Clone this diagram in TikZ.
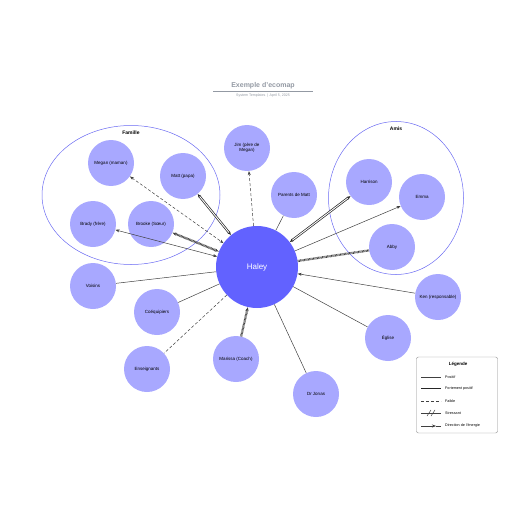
\documentclass[tikz,border=0pt]{standalone}
\usepackage{fontspec}
\setmainfont{Liberation Sans}
\usetikzlibrary{arrows.meta, shapes.geometric, positioning, calc}
\definecolor{pale}{HTML}{A8A8FF}
\definecolor{focus}{HTML}{6262FF}
\definecolor{groupline}{HTML}{6A6AF2}
\definecolor{titlegrey}{HTML}{9399A3}

\begin{document}
\begin{tikzpicture}[x=1pt, y=-1pt,
                >={Stealth[length=4pt, width=3pt]},
                person/.style={circle, fill=pale, minimum size=46pt, inner sep=1pt, align=center, font=\fontsize{4.5}{5.4}\selectfont},
                ego/.style={circle, fill=focus, minimum size=82pt, text=white, font=\fontsize{8}{9}\selectfont},
                group/.style={ellipse, draw=groupline, line width=0.5pt, inner sep=0pt},
                grouplabel/.style={font=\bfseries\fontsize{5}{6}\selectfont},
                positive/.style={draw=black!75, line width=0.5pt},
                strong/.style={draw=black!85, line width=0.7pt, double, double distance=0.9pt},
                weak/.style={positive, dash pattern=on 3pt off 2pt},
                stress/.style={draw=black!75, line width=2.2pt, dash pattern=on 0.7pt off 0.6pt},
                legendtext/.style={anchor=west, font=\fontsize{3.7}{4.5}\selectfont, inner sep=0pt}
            ]
            \useasboundingbox (0,0) rectangle (516,516);

            % Titre
            \node[font=\bfseries\fontsize{7}{8}\selectfont, text=titlegrey] (title) at (263,86) {Exemple d'ecomap};
            \coordinate (ruleL) at (213,91);
            \coordinate (ruleR) at (313,91);
            \draw[titlegrey, line width=0.5pt] (ruleL) -- (ruleR);
            \node[font=\fontsize{3.6}{4}\selectfont, text=titlegrey] (subtitle) at (263,95.5) {System Templates \,|\, April 5, 2025};

            % Groupes
            \node[group, minimum width=178pt, minimum height=139pt] (famille) at (131,195) {};
            \node[grouplabel, below=2pt of famille.north] {Famille};
            \node[group, minimum width=135pt, minimum height=153pt] (amis) at (396,198) {};
            \node[grouplabel, below=2pt of amis.north] {Amis};

            % Personnes
            \node[ego] (haley) at (257,267) {Haley};
            \node[person] (megan) at (111,163) {Megan (maman)};
            \node[person] (matt) at (183,176) {Matt (papa)};
            \node[person] (brady) at (93,224) {Brady (frère)};
            \node[person] (brooke) at (151,224) {Brooke (Sœur)};
            \node[person] (jim) at (247,148) {Jim (père de\\Megan)};
            \node[person] (pmatt) at (294,195) {Parents de Matt};
            \node[person] (harrison) at (369,182) {Harrison};
            \node[person] (emma) at (422,197) {Emma};
            \node[person] (abby) at (392,247) {Abby};
            \node[person] (voisins) at (93,286) {Voisins};
            \node[person] (coequipiers) at (157,312) {Coéquipiers};
            \node[person] (enseignants) at (147,369) {Enseignants};
            \node[person] (marissa) at (236,359) {Marissa (Coach)};
            \node[person] (jonas) at (316,394) {Dr Jonas};
            \node[person] (eglise) at (388,338) {Église};
            \node[person] (ken) at (438,297) {Ken (responsable)};

            % Liens
            \draw[weak, <->] (megan) -- (haley);
            \draw[strong, <->] (matt) -- (haley);
            \draw[positive, <->] (brady) -- (haley);
            \draw[stress, <->] (brooke) -- (haley);
            \draw[weak, ->] (haley) -- (jim);
            \draw[positive] (haley) -- (pmatt);
            \draw[strong, <->] (haley) -- (harrison);
            \draw[positive, ->] (haley) -- (emma);
            \draw[stress] (haley) -- (abby);
            \draw[positive, ->] (ken) -- (haley);
            \draw[positive] (haley) -- (eglise);
            \draw[positive] (haley) -- (jonas);
            \draw[stress, ->] (marissa) -- (haley);
            \draw[weak] (haley) -- (enseignants);
            \draw[positive] (haley) -- (coequipiers);
            \draw[positive] (haley) -- (voisins);

            % Légende
            \node[draw=black!45, line width=0.4pt, rounded corners=2pt, minimum width=81pt, minimum height=76pt] (legend) at (457,395) {};
            \node[font=\bfseries\fontsize{4.5}{5}\selectfont] (legtitle) at (458,364) {Légende};
            \foreach \i/\y/\txt in {1/377/Positif, 2/389/Fortement positif, 3/401/Faible, 4/413/Stressant, 5/426/Direction de l'énergie}{
                \coordinate (l\i a) at (421,\y);
                \coordinate (l\i b) at (441,\y);
                \node[legendtext] (l\i t) at (445,\y) {\txt};
            }
            \coordinate (l5m) at (436,426);
            \draw[positive] (l1a) -- (l1b);
            \draw[strong] (l2a) -- (l2b);
            \draw[weak] (l3a) -- (l3b);
            \draw[positive] (l4a) -- (l4b);
            \draw[positive] ($(l4a)!0.4!(l4b)+(-2,3)$) -- ($(l4a)!0.4!(l4b)+(2,-3)$);
            \draw[positive] ($(l4a)!0.6!(l4b)+(-2,3)$) -- ($(l4a)!0.6!(l4b)+(2,-3)$);
            \draw[positive, ->] (l5a) -- (l5m);
            \draw[positive] (l5m) -- (l5b);
        \end{tikzpicture}
\end{document}
